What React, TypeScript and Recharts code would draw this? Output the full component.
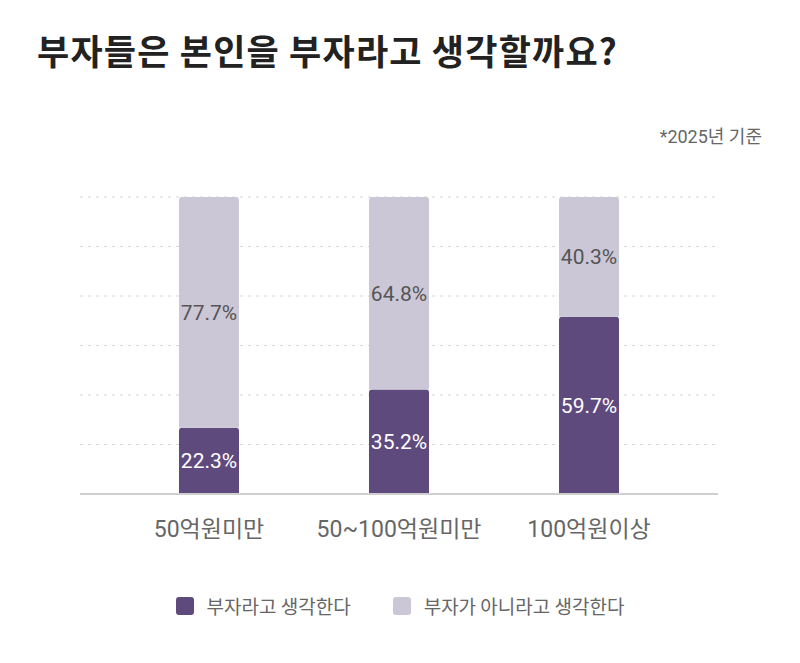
import React from 'react'
import { BarChart, Bar, XAxis, YAxis, CartesianGrid, LabelList } from 'recharts'

const categories = ['50억원미만', '50~100억원미만', '100억원이상']
const richValues = [22.3, 35.2, 59.7]
const notRichValues = [77.7, 64.8, 40.3]
const seriesNames = ['부자라고 생각한다', '부자가 아니라고 생각한다']
const yTicks = [0, 16.67, 33.33, 50, 66.67, 83.33, 100]

const DARK = '#5F4A7E'
const LIGHT = '#CCC7D6'
const FONT = '"Noto Sans CJK KR", "Noto Sans", Roboto, sans-serif'
// roboto for the digits, noto for hangul
const NUM_FONT = 'Roboto, "Noto Sans CJK KR", sans-serif'

const data = categories.map((name, i) => ({
  name,
  rich: richValues[i],
  notRich: notRichValues[i],
}))

const pct = (v: any) => `${v}%`

export default function App() {
  return (
    <div style={{ position: 'relative', width: 800, height: 663, margin: -8, background: '#fff', fontFamily: FONT, overflow: 'hidden' }}>
      <div style={{ position: 'absolute', left: 37, top: 24, fontSize: 35, fontWeight: 700, color: '#222', letterSpacing: 1.2, whiteSpace: 'nowrap' }}>
        부자들은 본인을 부자라고 생각할까요?
      </div>
      <div style={{ position: 'absolute', right: 38, top: 122, fontSize: 18, color: '#666', fontFamily: NUM_FONT }}>
        *2025년 기준
      </div>

      <div style={{ position: 'absolute', left: 0, top: 0 }}>
        <BarChart
          width={800}
          height={663}
          data={data}
          margin={{ top: 197, right: 82, left: 80, bottom: 109 }}
          barSize={60}
        >
          <CartesianGrid vertical={false} stroke="#d6d6d6" strokeDasharray="3 5" horizontalValues={yTicks} />
          <YAxis hide domain={[0, 100]} ticks={yTicks} />
          <XAxis
            dataKey="name"
            height={60}
            padding={{ left: 34, right: 34 }}
            axisLine={{ stroke: '#cfcfcf', strokeWidth: 2 }}
            tickLine={false}
            tickSize={0}
            tickMargin={27}
            tick={{ fill: '#666', fontSize: 23, fontFamily: NUM_FONT }}
            interval={0}
          />
          <Bar dataKey="rich" stackId="a" fill={DARK} radius={[3, 3, 0, 0]} isAnimationActive={false}>
            <LabelList dataKey="rich" position="center" formatter={pct} fill="#fff" fontSize={21} fontFamily={NUM_FONT} />
          </Bar>
          <Bar dataKey="notRich" stackId="a" fill={LIGHT} radius={[3, 3, 0, 0]} isAnimationActive={false}>
            <LabelList dataKey="notRich" position="center" formatter={pct} fill="#555" fontSize={21} fontFamily={NUM_FONT} />
          </Bar>
        </BarChart>
      </div>

      <div style={{ position: 'absolute', top: 592, left: 0, width: 800, display: 'flex', justifyContent: 'center', gap: 42, fontSize: 19, color: '#666' }}>
        {seriesNames.map((n, i) => (
          <div key={n} style={{ display: 'flex', alignItems: 'center', gap: 13 }}>
            <span style={{ width: 18, height: 18, borderRadius: 3, background: i === 0 ? DARK : LIGHT, display: 'inline-block' }} />
            <span>{n}</span>
          </div>
        ))}
      </div>
    </div>
  )
}
